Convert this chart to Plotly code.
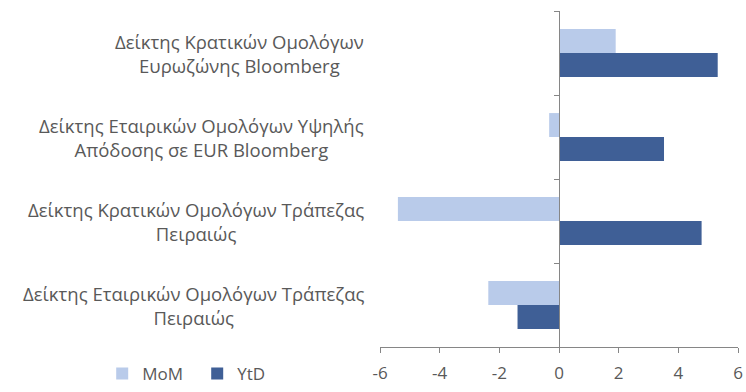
import plotly.graph_objects as go

categories = [
    "Δείκτης Κρατικών Ομολόγων<br>Ευρωζώνης Bloomberg",
    "Δείκτης Εταιρικών Ομολόγων Υψηλής<br>Απόδοσης σε EUR Bloomberg",
    "Δείκτης Κρατικών Ομολόγων Τράπεζας<br>Πειραιώς",
    "Δείκτης Εταιρικών Ομολόγων Τράπεζας<br>Πειραιώς",
]
cat_ids = ["c1", "c2", "c3", "c4"]
mom = [1.9, -0.33, -5.4, -2.37]
ytd = [5.32, 3.52, 4.78, -1.39]
x_ticks = [-6, -4, -2, 0, 2, 4, 6]
x_tick_text = ["-6", "-4", "-2", "0", "2", "4", "6"]

FONT = "Open Sans"
TXT = "#595959"
AX = "#868686"

fig = go.Figure()
fig.add_trace(go.Bar(y=cat_ids, x=mom, orientation="h", name="MoM",
                     marker=dict(color="#B9CBEA", line_width=0)))
fig.add_trace(go.Bar(y=cat_ids, x=ytd, orientation="h", name="YtD",
                     marker=dict(color="#3F5F96", line_width=0)))

for cid, lab in zip(cat_ids, categories):
    fig.add_annotation(x=-0.04, xref="paper", y=cid, yref="y", text=lab,
                       showarrow=False, xanchor="right", align="center",
                       font=dict(family=FONT, size=18.5, color=TXT))

fig.update_layout(
    width=746, height=392,
    margin=dict(l=380, r=8, t=11, b=45, autoexpand=False),
    paper_bgcolor="white", plot_bgcolor="white",
    barmode="group", bargap=0.43, bargroupgap=0,
    font=dict(family=FONT, color=TXT, size=17),
    showlegend=True,
    legend=dict(orientation="h", xref="container", yref="container",
                x=0.137, y=-0.035, xanchor="left", yanchor="bottom",
                font=dict(family=FONT, size=17, color=TXT),
                entrywidth=50, tracegroupgap=0),
    xaxis=dict(range=[-6, 6], tickvals=x_ticks, ticktext=x_tick_text,
               ticks="outside", ticklen=5, ticklabelstandoff=6,
               tickcolor=AX, showline=True, linecolor=AX, linewidth=1,
               showgrid=False, zeroline=False,
               tickfont=dict(family=FONT, size=17, color=TXT)),
    yaxis=dict(categoryorder="array", categoryarray=cat_ids,
               autorange="reversed", anchor="free", position=0.5,
               showticklabels=False, ticks="outside", ticklen=5,
               tickcolor=AX, tickson="boundaries", showline=True,
               linecolor=AX, linewidth=1, showgrid=False, zeroline=False),
)

fig.write_html("out.html")
